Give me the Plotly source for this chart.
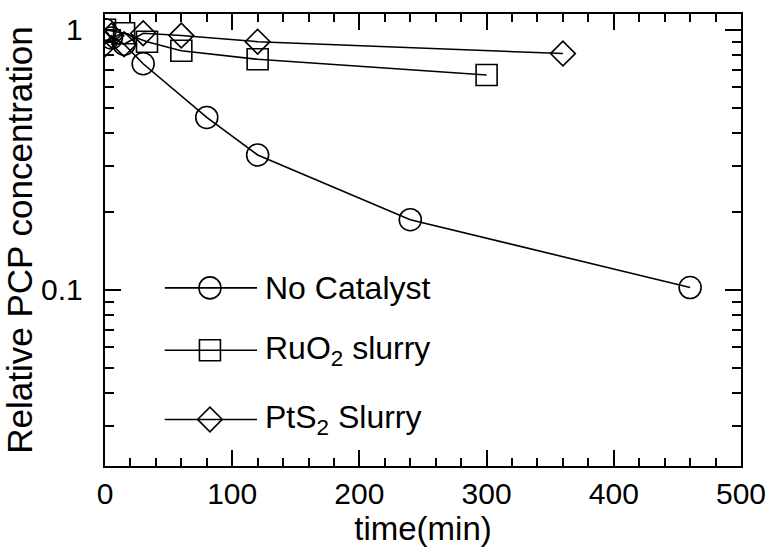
import plotly.graph_objects as go
import math

# ---- data ----
time_nocat = [0, 5, 15, 30, 80, 120, 240, 460]
conc_nocat = [1.0, 0.93, 0.88, 0.74, 0.46, 0.33, 0.186, 0.102]

time_ruo2 = [0, 15, 33, 60, 120, 300]
conc_ruo2 = [1.0, 0.97, 0.90, 0.83, 0.77, 0.67]

time_pts2 = [0, 5, 15, 30, 60, 120, 360]
conc_pts2 = [0.88, 0.95, 0.88, 0.97, 0.95, 0.90, 0.81]

series_names = ["No Catalyst", "RuO<sub>2</sub> slurry", "PtS<sub>2</sub> Slurry"]
x_ticks = [0, 100, 200, 300, 400, 500]
y_ticks = [0.1, 1]
y_ticktext = ["0.1", "1"]
y_minor = [0.02, 0.03, 0.04, 0.05, 0.06, 0.07, 0.08, 0.09,
           0.2, 0.3, 0.4, 0.5, 0.6, 0.7, 0.8, 0.9]

# ---- styles ----
FONT = "Liberation Sans, Arial, Helvetica, sans-serif"
symbols = ["circle-open", "square-open", "diamond-open"]
sizes = [22, 21, 19]
datasets = [(time_nocat, conc_nocat), (time_ruo2, conc_ruo2), (time_pts2, conc_pts2)]

fig = go.Figure()
for (t, c), sym, sz, name in zip(datasets, symbols, sizes, series_names):
    fig.add_trace(go.Scatter(
        x=t, y=c, mode="lines+markers", name=name, showlegend=False,
        line=dict(color="black", width=1.6),
        marker=dict(symbol=sym, size=sz, color="black", line=dict(width=1.6, color="black")),
    ))

# ---- in-plot legend (drawn on a hidden overlay axis in plot-fraction units) ----
leg_y = [0.394, 0.256, 0.103]
leg_x = [0.094, 0.165, 0.239]
for sym, sz, name, ly in zip(symbols, sizes, series_names, leg_y):
    fig.add_trace(go.Scatter(
        x=leg_x, y=[ly] * 3, mode="lines+markers", showlegend=False,
        xaxis="x2", yaxis="y2", hoverinfo="skip",
        line=dict(color="black", width=1.6),
        marker=dict(symbol=sym, size=[0, sz, 0], opacity=[0, 1, 0], color="black",
                    line=dict(width=1.6, color="black")),
    ))
    fig.add_annotation(x=0.249, y=ly, xref="paper", yref="paper", text=name,
                       showarrow=False, xanchor="left", yanchor="middle",
                       font=dict(family=FONT, size=32, color="black"))

axis_common = dict(
    showline=True, linecolor="black", linewidth=2.4, mirror="ticks",
    ticks="inside", tickcolor="black", tickwidth=2, ticklen=16,
    showgrid=False, zeroline=False,
    tickfont=dict(family=FONT, size=30, color="black"),
)

fig.update_layout(
    width=778, height=556,
    margin=dict(l=105, r=36, t=12, b=90),
    paper_bgcolor="white", plot_bgcolor="white",
    showlegend=False,
    xaxis=dict(
        range=[0, 500], tickvals=x_ticks,
        minor=dict(ticks="inside", dtick=20, ticklen=8, tickwidth=2, tickcolor="black"),
        title=dict(text="time(min)", font=dict(family=FONT, size=33, color="black"), standoff=4),
        **axis_common,
    ),
    yaxis=dict(
        type="log", range=[math.log10(0.021), math.log10(1.15)],
        tickvals=y_ticks, ticktext=y_ticktext, ticklabelstandoff=14,
        minor=dict(ticks="inside", tickvals=y_minor, ticklen=9, tickwidth=2, tickcolor="black"),
        title=dict(text="Relative PCP concentration", font=dict(family=FONT, size=35, color="black"), standoff=4),
        **axis_common,
    ),
    xaxis2=dict(overlaying="x", range=[0, 1], visible=False, showticklabels=False),
    yaxis2=dict(overlaying="y", range=[0, 1], visible=False, showticklabels=False),
)

fig.write_html("out.html")
